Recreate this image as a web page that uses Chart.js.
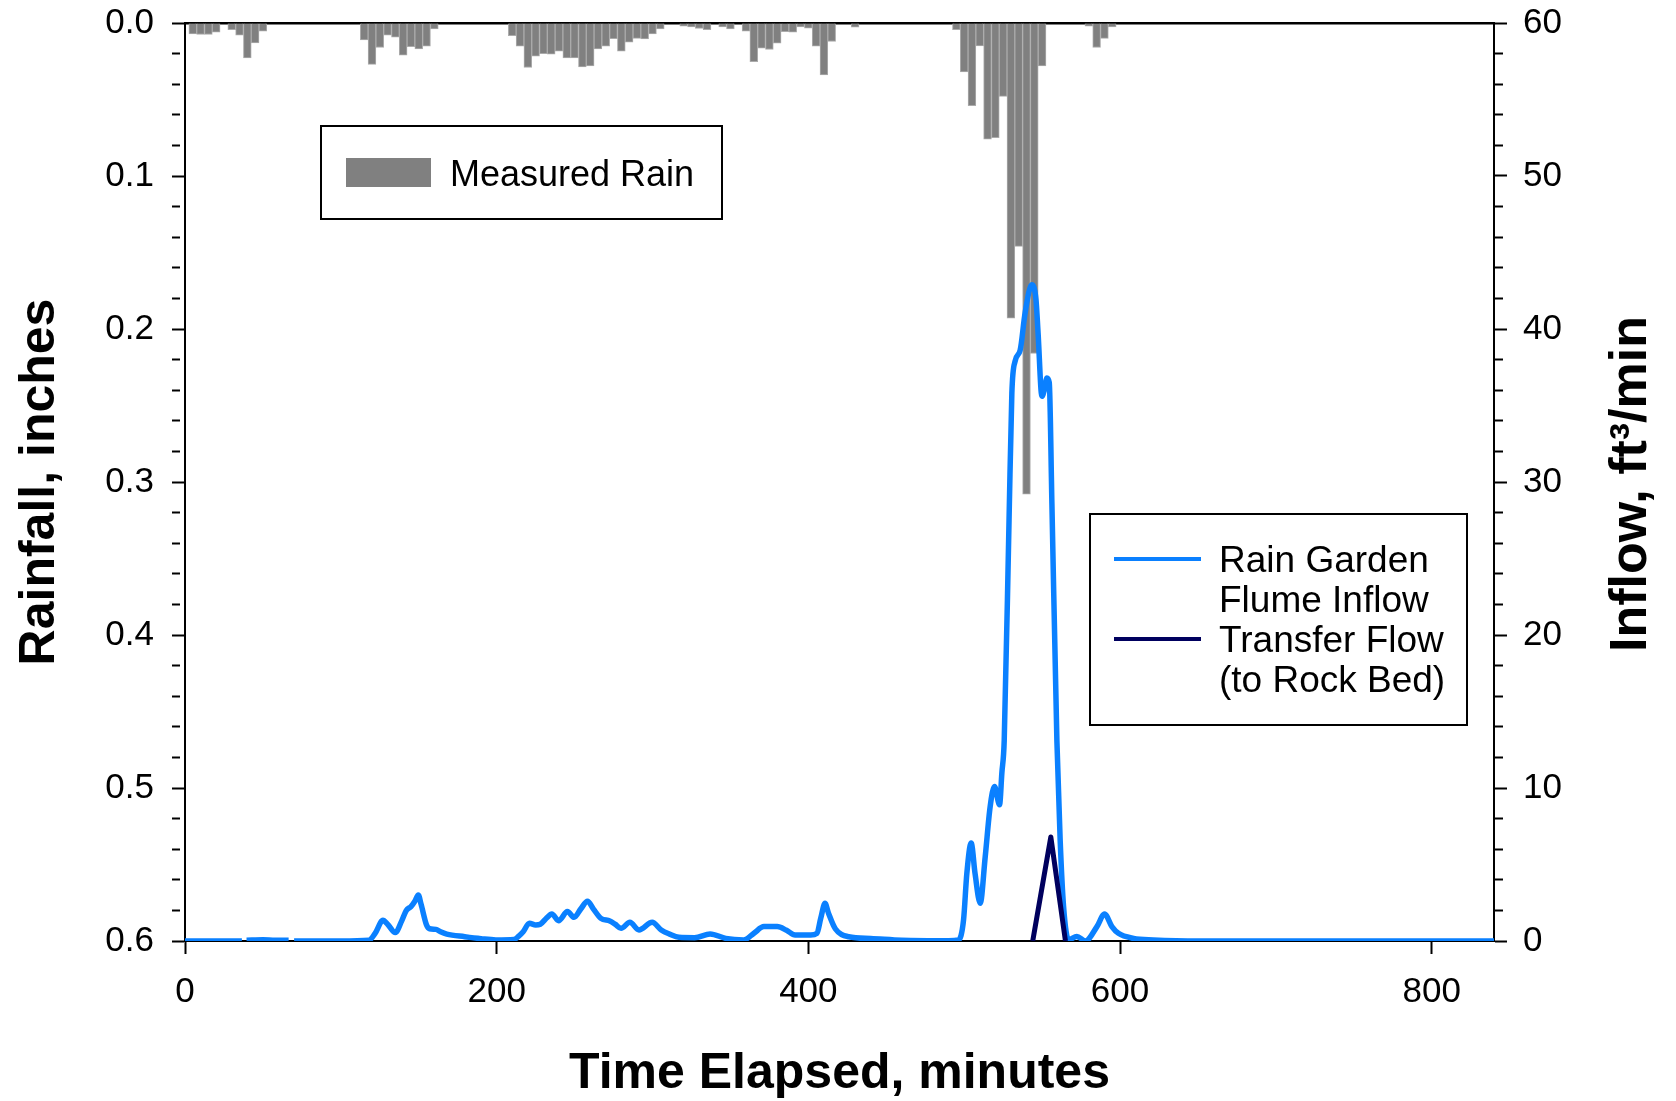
<!DOCTYPE html>
<html>
<head>
<meta charset="utf-8">
<title>Rain Garden Inflow</title>
<script src="https://cdn.jsdelivr.net/npm/chart.js@4.4.0/dist/chart.umd.min.js"></script>
<style>
  html, body { margin: 0; padding: 0; background: #fff; }
  #wrap { width: 1676px; height: 1101px; }
</style>
</head>
<body>
<div id="wrap"><canvas id="flowChart"></canvas></div>
<script>
// measured rain, 5 minute totals (inches), hung from the top axis
const rainTime = [5, 10, 15, 20, 30, 35, 40, 45, 50,
  115, 120, 125, 130, 135, 140, 145, 150, 155, 160,
  210, 215, 220, 225, 230, 235, 240, 245, 250, 255, 260, 265, 270, 275, 280, 285, 290, 295, 300, 305,
  320, 325, 330, 335, 345, 350, 360, 365, 370, 375, 380, 385, 390, 395, 400, 405, 410, 415, 430,
  495, 500, 505, 510, 515, 520, 525, 530, 535, 540, 545, 550,
  580, 585, 590, 595];
const rainDepth = [0.0071, 0.0075, 0.0075, 0.006, 0.0043, 0.008, 0.0228, 0.013, 0.0053,
  0.011, 0.027, 0.016, 0.008, 0.0093, 0.021, 0.0154, 0.0169, 0.0152, 0.0038,
  0.0082, 0.0152, 0.0291, 0.0217, 0.02, 0.0204, 0.0184, 0.0228, 0.0228, 0.0287, 0.028, 0.0169, 0.0152, 0.0103, 0.0184, 0.0126, 0.0101, 0.0104, 0.0071, 0.0038,
  0.0021, 0.0025, 0.0036, 0.0043, 0.0025, 0.0038, 0.0053, 0.0252, 0.0165, 0.0173, 0.0132, 0.0056, 0.006, 0.0025, 0.0034, 0.0152, 0.0339, 0.0121, 0.0027,
  0.0043, 0.032, 0.054, 0.015, 0.076, 0.075, 0.048, 0.193, 0.146, 0.308, 0.216, 0.028,
  0.0021, 0.016, 0.010, 0.0025];

// rain garden flume inflow (ft3/min), null = logger gap
const inflowTime = [0, 36.5, 37.5, 39.5, 50, 58, 66.5, 68, 70, 100,
  118, 122, 127, 130, 135, 139, 142, 145, 147.5, 149.7, 151.5, 155, 157, 161, 164, 168, 179.5, 190, 199.5,
  211, 214, 217, 221, 225, 228, 232, 235.4, 239.7, 245.4, 249.7, 254, 258.3, 262, 266.9, 272.6, 276, 279.8,
  285.5, 291.3, 299.8, 305.6, 311, 317, 327, 337, 347, 358.5, 365, 371.5, 380, 386, 391.5, 401.5,
  405.5, 408, 410.7, 413, 417.3, 425.9, 440, 460, 490,
  496.4, 499.6, 501.7, 504.5, 507, 510.3, 513.5, 516.7, 519.5, 522.7, 524.2, 525.7, 528.8, 530.6, 532.7,
  535.9, 539.1, 543.4, 546.1, 547.4, 549.9, 551.4, 553.1, 554.6, 556.3, 559.5, 561.6, 563.8, 567,
  572.3, 577.7, 585.2, 590.1, 594.8, 599, 608.7, 621.5, 651.5, 840];
const inflowValue = [0, 0, null, 0.05, 0.08, 0.05, 0.05, null, 0, 0,
  0.05, 0.5, 1.35, 1.1, 0.55, 1.3, 2.0, 2.25, 2.6, 3.0, 2.4, 1.05, 0.8, 0.76, 0.6, 0.45, 0.28, 0.15, 0.07,
  0.1, 0.3, 0.6, 1.16, 1.05, 1.1, 1.5, 1.77, 1.33, 1.92, 1.55, 2.1, 2.6, 2.1, 1.48, 1.31, 1.1, 0.83,
  1.22, 0.72, 1.22, 0.72, 0.45, 0.24, 0.22, 0.46, 0.17, 0.07, 0.5, 0.94, 0.94, 0.7, 0.39, 0.39,
  0.5, 1.5, 2.46, 1.8, 0.8, 0.28, 0.17, 0.05, 0.02,
  0.07, 1.37, 4.4, 6.4, 4.4, 2.47, 5.5, 8.8, 10.1, 8.9, 11, 13.1, 27.5, 35.8, 37.9,
  38.6, 41.05, 42.9, 41.9, 39.8, 35.6, 36.0, 36.8, 36.5, 28.6, 13.1, 6.6, 2.24, 0.07,
  0.3, 0, 0.94, 1.77, 0.94, 0.5, 0.17, 0.07, 0, 0];

// transfer flow to rock bed (ft3/min)
const transferTime = [544, 555.6, 565];
const transferValue = [0, 6.8, 0];

// axis ticks (labelled ones)
const timeTicks = [0, 200, 400, 600, 800];
const rainTicks = [0.0, 0.1, 0.2, 0.3, 0.4, 0.5, 0.6];
const flowTicks = [0, 10, 20, 30, 40, 50, 60];

const FONT = "'Liberation Sans', Arial, Helvetica, sans-serif";
const rainColor = '#808080';
const inflowColor = '#0a80ff';
const transferColor = '#00005e';

Chart.defaults.font.family = FONT;
Chart.defaults.color = '#000';

function pairs(xs, ys) {
  return xs.map((x, i) => ({x: x, y: ys[i]}));
}

// major ticks plus 4 minor ticks between each pair
function withMinor(list, n) {
  const out = [];
  for (let i = 0; i < list.length - 1; i++) {
    for (let k = 0; k < n; k++) {
      out.push(list[i] + (list[i + 1] - list[i]) * k / n);
    }
  }
  out.push(list[list.length - 1]);
  return out;
}

function isOn(list, v) {
  return list.some(m => Math.abs(m - v) < 1e-9);
}

// fixed axis boxes so the plot area sits where the original one does
function fixBox(w, h) {
  return s => {
    if (w !== null) s.width = w;
    if (h !== null) s.height = h;
    s.paddingTop = 0;
    s.paddingBottom = 0;
    s.paddingLeft = 0;
    s.paddingRight = 0;
  };
}

const tickFont = {size: 35, family: FONT};
const titleFont = {size: 50, weight: 'bold', family: FONT, lineHeight: 1};

// legend boxes and the right axis title
const extras = {
  id: 'extras',
  afterDraw(chart) {
    const ctx = chart.ctx;
    ctx.save();
    ctx.lineWidth = 2;
    ctx.strokeStyle = '#000';

    ctx.fillStyle = '#fff';
    ctx.fillRect(321, 126, 401, 93);
    ctx.strokeRect(321, 126, 401, 93);
    ctx.fillStyle = rainColor;
    ctx.fillRect(346, 158, 85, 29);
    ctx.fillStyle = '#000';
    ctx.font = '36px ' + FONT;
    ctx.textBaseline = 'alphabetic';
    ctx.textAlign = 'left';
    ctx.fillText('Measured Rain', 450, 186);

    ctx.fillStyle = '#fff';
    ctx.fillRect(1090, 514, 377, 211);
    ctx.strokeRect(1090, 514, 377, 211);
    ctx.lineWidth = 4;
    ctx.strokeStyle = inflowColor;
    ctx.beginPath(); ctx.moveTo(1114, 559); ctx.lineTo(1201, 559); ctx.stroke();
    ctx.strokeStyle = transferColor;
    ctx.beginPath(); ctx.moveTo(1114, 639); ctx.lineTo(1201, 639); ctx.stroke();
    ctx.fillStyle = '#000';
    ctx.font = '37px ' + FONT;
    ctx.fillText('Rain Garden', 1219, 572);
    ctx.fillText('Flume Inflow', 1219, 612);
    ctx.fillText('Transfer Flow', 1219, 652);
    ctx.fillText('(to Rock Bed)', 1219, 692);

    ctx.translate(1632, 484);
    ctx.rotate(-Math.PI / 2);
    ctx.font = 'bold 52px ' + FONT;
    ctx.textAlign = 'center';
    ctx.textBaseline = 'middle';
    ctx.fillText('Inflow, ft\u00b3/min', 0, 0);
    ctx.restore();
  }
};

const minorDash = list => c => (c.tick && !isOn(list, c.tick.value)) ? [8, 40] : [];

new Chart(document.getElementById('flowChart'), {
  type: 'line',
  data: {
    datasets: [
      {
        type: 'line',
        label: 'Transfer Flow (to Rock Bed)',
        data: pairs(transferTime, transferValue),
        xAxisID: 'x',
        yAxisID: 'y2',
        borderColor: transferColor,
        borderWidth: 5,
        borderJoinStyle: 'round',
        pointRadius: 0,
        tension: 0,
        order: 1
      },
      {
        type: 'line',
        label: 'Rain Garden Flume Inflow',
        data: pairs(inflowTime, inflowValue),
        xAxisID: 'x',
        yAxisID: 'y2',
        borderColor: inflowColor,
        borderWidth: 5.5,
        borderJoinStyle: 'round',
        pointRadius: 0,
        cubicInterpolationMode: 'monotone',
        spanGaps: false,
        order: 2
      },
      {
        type: 'bar',
        label: 'Measured Rain',
        data: pairs(rainTime, rainDepth),
        xAxisID: 'x',
        yAxisID: 'y',
        backgroundColor: rainColor,
        borderColor: '#ababab',
        borderWidth: 1,
        barPercentage: 1,
        categoryPercentage: 1,
        order: 3
      }
    ]
  },
  options: {
    responsive: true,
    maintainAspectRatio: false,
    animation: false,
    events: [],
    layout: {padding: 0},
    plugins: {
      legend: {display: false},
      tooltip: {enabled: false}
    },
    scales: {
      x: {
        type: 'linear',
        position: 'bottom',
        min: 0,
        max: 840,
        offset: false,
        afterBuildTicks: s => { s.ticks = timeTicks.map(v => ({value: v})); },
        afterFit: fixBox(null, 160),
        ticks: {font: tickFont, color: '#000', padding: 17, autoSkip: false, maxRotation: 0,
          callback: v => String(v)},
        grid: {drawOnChartArea: false, offset: false, tickLength: 13, tickWidth: 2, tickColor: '#000'},
        border: {display: true, color: '#000', width: 2},
        title: {display: true, text: 'Time Elapsed, minutes', font: titleFont, color: '#000',
          padding: {top: 0, bottom: 2}}
      },
      x2: {
        type: 'linear',
        position: 'top',
        min: 0,
        max: 840,
        offset: false,
        afterFit: fixBox(null, 23),
        ticks: {display: false},
        grid: {drawOnChartArea: false, drawTicks: false},
        border: {display: true, color: '#000', width: 2.5}
      },
      y: {
        type: 'linear',
        position: 'left',
        reverse: true,
        min: 0,
        max: 0.6,
        afterBuildTicks: s => { s.ticks = withMinor(rainTicks, 5).map(v => ({value: v})); },
        afterFit: fixBox(185, null),
        ticks: {font: tickFont, color: '#000', padding: 18, autoSkip: false,
          callback: v => isOn(rainTicks, v) ? v.toFixed(1) : ''},
        grid: {drawOnChartArea: false, tickLength: 13, tickWidth: 2, tickColor: '#000',
          tickBorderDash: minorDash(rainTicks)},
        border: {display: true, color: '#000', width: 2},
        title: {display: true, text: 'Rainfall, inches', font: titleFont, color: '#000',
          padding: {top: 15, bottom: 0}}
      },
      y2: {
        type: 'linear',
        position: 'right',
        min: 0,
        max: 60,
        afterBuildTicks: s => { s.ticks = withMinor(flowTicks, 5).map(v => ({value: v})); },
        afterFit: fixBox(182, null),
        ticks: {font: tickFont, color: '#000', padding: 16, autoSkip: false,
          callback: v => isOn(flowTicks, v) ? String(v) : ''},
        grid: {drawOnChartArea: false, tickLength: 13, tickWidth: 2, tickColor: '#000',
          tickBorderDash: minorDash(flowTicks)},
        border: {display: true, color: '#000', width: 2}
      }
    }
  },
  plugins: [extras]
});
</script>
</body>
</html>
